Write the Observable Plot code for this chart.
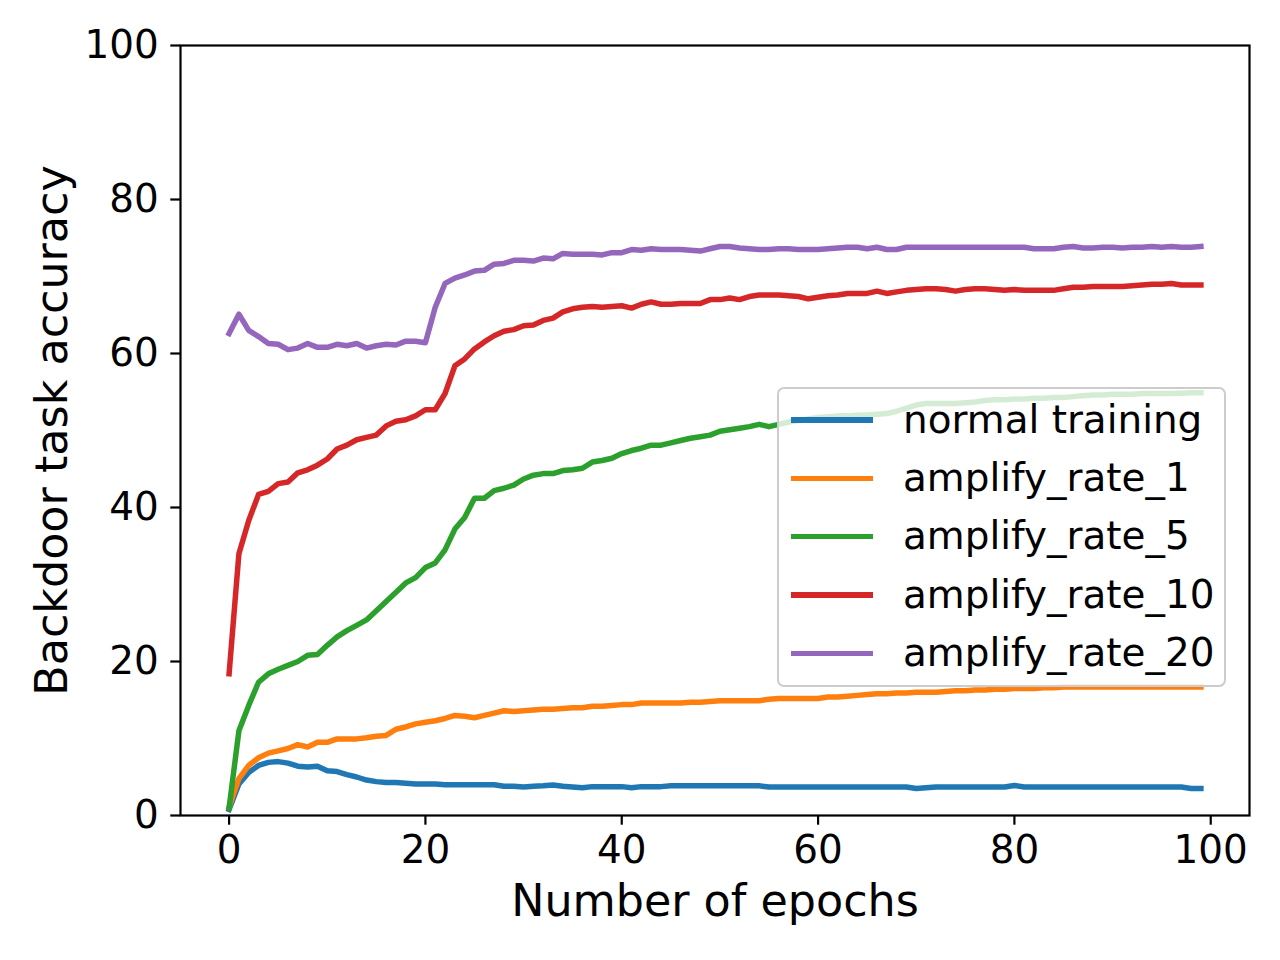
<!DOCTYPE html>
<html>
<head>
<meta charset="utf-8">
<script src="https://cdn.jsdelivr.net/npm/d3@7"></script>
<script src="https://cdn.jsdelivr.net/npm/@observablehq/plot@0.6"></script>
<style>
  html, body { margin: 0; padding: 0; background: white; }
  #wrap { position: relative; width: 1280px; height: 960px; font-family: "DejaVu Sans", sans-serif; }
  #legend {
    position: absolute; left: 777px; top: 387px; width: 449px; height: 300px;
    border: 2.2px solid #cccccc; border-radius: 7px; background: rgba(255,255,255,0.8);
    box-sizing: border-box; padding-top: 2px;
  }
  .row { display: flex; align-items: center; height: 58.3px; }
  .sw { width: 82px; height: 5.5px; margin-left: 12px; margin-right: 30px; }
  .lab { font-size: 38.9px; line-height: 1; color: black; white-space: nowrap; }
  g[aria-label="x-axis label"] text, g[aria-label="y-axis label"] text { font-size: 44.4px; }
</style>
</head>
<body>
<div id="wrap"></div>
<script>
const seriesNames = ["normal training", "amplify_rate_1", "amplify_rate_5", "amplify_rate_10", "amplify_rate_20"];
const seriesColors = ["#1f77b4", "#ff7f0e", "#2ca02c", "#d62728", "#9467bd"];
const xTicks = [0, 20, 40, 60, 80, 100];
const yTicks = [0, 20, 40, 60, 80, 100];

const normalTraining = [
  0.8, 4.1, 5.6, 6.5, 6.9, 7.0, 6.8, 6.4, 6.3, 6.4,
  5.8, 5.7, 5.3, 5.0, 4.6, 4.4, 4.3, 4.3, 4.2, 4.1,
  4.1, 4.1, 4.0, 4.0, 4.0, 4.0, 4.0, 4.0, 3.8, 3.8,
  3.7, 3.8, 3.85, 3.95, 3.8, 3.7, 3.6, 3.75, 3.75, 3.75,
  3.75, 3.6, 3.75, 3.75, 3.75, 3.85, 3.85, 3.85, 3.85, 3.85,
  3.85, 3.85, 3.85, 3.85, 3.85, 3.7, 3.7, 3.7, 3.7, 3.7,
  3.7, 3.7, 3.7, 3.7, 3.7, 3.7, 3.7, 3.7, 3.7, 3.7,
  3.5, 3.6, 3.7, 3.7, 3.7, 3.7, 3.7, 3.7, 3.7, 3.7,
  3.9, 3.7, 3.7, 3.7, 3.7, 3.7, 3.7, 3.7, 3.7, 3.7,
  3.7, 3.7, 3.7, 3.7, 3.7, 3.7, 3.7, 3.7, 3.5, 3.5
];
const amplifyRate1 = [
  1.1, 4.8, 6.5, 7.5, 8.1, 8.4, 8.7, 9.2, 8.9, 9.5,
  9.5, 9.95, 9.95, 9.95, 10.1, 10.3, 10.4, 11.2, 11.5, 11.9,
  12.1, 12.3, 12.6, 13.0, 12.9, 12.7, 13.0, 13.3, 13.6, 13.5,
  13.6, 13.7, 13.8, 13.8, 13.9, 14.0, 14.0, 14.2, 14.2, 14.3,
  14.4, 14.4, 14.6, 14.6, 14.6, 14.6, 14.6, 14.7, 14.7, 14.8,
  14.9, 14.9, 14.9, 14.9, 14.9, 15.1, 15.2, 15.2, 15.2, 15.2,
  15.2, 15.4, 15.4, 15.5, 15.6, 15.7, 15.8, 15.8, 15.9, 15.9,
  16.0, 16.0, 16.0, 16.1, 16.2, 16.2, 16.3, 16.3, 16.4, 16.4,
  16.5, 16.5, 16.5, 16.6, 16.6, 16.7, 16.7, 16.7, 16.7, 16.7,
  16.7, 16.7, 16.7, 16.7, 16.7, 16.7, 16.7, 16.7, 16.7, 16.7
];
const amplifyRate5 = [
  1.0, 11.0, 14.3, 17.3, 18.4, 19.0, 19.5, 20.0, 20.8, 20.9,
  22.1, 23.2, 24.0, 24.7, 25.4, 26.6, 27.8, 29.0, 30.2, 30.9,
  32.2, 32.8, 34.5, 37.2, 38.7, 41.2, 41.2, 42.2, 42.5, 42.9,
  43.7, 44.2, 44.4, 44.4, 44.8, 44.9, 45.1, 45.9, 46.1, 46.4,
  47.0, 47.4, 47.7, 48.1, 48.1, 48.4, 48.7, 49.0, 49.2, 49.4,
  49.9, 50.1, 50.3, 50.5, 50.8, 50.5, 50.8, 51.1, 51.3, 51.5,
  51.7, 51.8, 51.9, 51.9, 52.0, 52.0, 52.1, 52.2, 52.5, 52.9,
  53.3, 53.5, 53.5, 53.5, 53.5, 53.6, 53.7, 53.9, 54.0, 54.0,
  54.1, 54.1, 54.2, 54.2, 54.3, 54.3, 54.4, 54.5, 54.6, 54.6,
  54.7, 54.7, 54.7, 54.8, 54.8, 54.8, 54.8, 54.85, 54.9, 54.9
];
const amplifyRate10 = [
  18.4, 34.0, 38.3, 41.7, 42.1, 43.1, 43.3, 44.5, 44.9, 45.5,
  46.3, 47.6, 48.1, 48.8, 49.1, 49.4, 50.6, 51.2, 51.4, 51.9,
  52.7, 52.7, 54.8, 58.4, 59.3, 60.6, 61.5, 62.3, 62.9, 63.1,
  63.6, 63.7, 64.3, 64.6, 65.4, 65.8, 66.0, 66.1, 66.0, 66.1,
  66.2, 65.9, 66.4, 66.7, 66.4, 66.4, 66.5, 66.5, 66.5, 67.0,
  67.0, 67.2, 67.0, 67.4, 67.6, 67.6, 67.6, 67.5, 67.4, 67.1,
  67.3, 67.5, 67.6, 67.8, 67.8, 67.8, 68.1, 67.8, 68.0, 68.2,
  68.3, 68.4, 68.4, 68.3, 68.1, 68.3, 68.4, 68.4, 68.3, 68.2,
  68.3, 68.2, 68.2, 68.2, 68.2, 68.4, 68.6, 68.6, 68.7, 68.7,
  68.7, 68.7, 68.8, 68.9, 69.0, 69.0, 69.1, 68.9, 68.9, 68.9
];
const amplifyRate20 = [
  62.6, 65.1, 63.0, 62.2, 61.3, 61.2, 60.5, 60.7, 61.3, 60.8,
  60.8, 61.2, 61.0, 61.3, 60.7, 61.0, 61.2, 61.1, 61.6, 61.6,
  61.4, 66.0, 69.1, 69.8, 70.2, 70.7, 70.8, 71.6, 71.7, 72.1,
  72.1, 72.0, 72.4, 72.3, 73.0, 72.9, 72.9, 72.9, 72.8, 73.1,
  73.1, 73.5, 73.4, 73.6, 73.5, 73.5, 73.5, 73.4, 73.3, 73.6,
  73.9, 73.9, 73.7, 73.6, 73.5, 73.5, 73.6, 73.6, 73.5, 73.5,
  73.5, 73.6, 73.7, 73.8, 73.8, 73.6, 73.8, 73.5, 73.5, 73.8,
  73.8, 73.8, 73.8, 73.8, 73.8, 73.8, 73.8, 73.8, 73.8, 73.8,
  73.8, 73.8, 73.6, 73.6, 73.6, 73.8, 73.9, 73.7, 73.7, 73.8,
  73.8, 73.7, 73.8, 73.8, 73.9, 73.8, 73.9, 73.8, 73.8, 73.9
];

const allSeries = [normalTraining, amplifyRate1, amplifyRate5, amplifyRate10, amplifyRate20];
const rows = [];
allSeries.forEach((vals, si) => vals.forEach((v, i) => rows.push({epoch: i, acc: v, series: seriesNames[si]})));

const fontSize = "38.9px";
const chart = Plot.plot({
  width: 1280,
  height: 960,
  marginLeft: 180,
  marginRight: 31,
  marginTop: 45,
  marginBottom: 145,
  style: {fontFamily: "DejaVu Sans", fontSize: fontSize, color: "black", background: "white", overflow: "visible"},
  x: {domain: [-4.95, 103.95]},
  y: {domain: [0, 100]},
  color: {domain: seriesNames, range: seriesColors},
  marks: [
    Plot.line(rows, {x: "epoch", y: "acc", z: "series", stroke: "series", strokeWidth: 5.5, strokeLinejoin: "round", strokeLinecap: "square"}),
    Plot.frame({stroke: "black", strokeWidth: 2.2}),
    Plot.axisX({ticks: xTicks, tickSize: 9.7, tickPadding: 10, strokeWidth: 2.2, fontSize: fontSize,
      label: "Number of epochs", labelAnchor: "center", labelArrow: false, labelOffset: 100}),
    Plot.axisY({ticks: yTicks, tickSize: 9.7, tickPadding: 12, strokeWidth: 2.2, fontSize: fontSize,
      label: "Backdoor task accuracy", labelAnchor: "center", labelArrow: false, labelOffset: 145})
  ]
});

const wrap = document.getElementById("wrap");
wrap.appendChild(chart);

const legend = document.createElement("div");
legend.id = "legend";
seriesNames.forEach((name, i) => {
  const row = document.createElement("div");
  row.className = "row";
  const sw = document.createElement("div");
  sw.className = "sw";
  sw.style.background = seriesColors[i];
  const lab = document.createElement("div");
  lab.className = "lab";
  lab.textContent = name;
  row.appendChild(sw);
  row.appendChild(lab);
  legend.appendChild(row);
});
wrap.appendChild(legend);
</script>
</body>
</html>
